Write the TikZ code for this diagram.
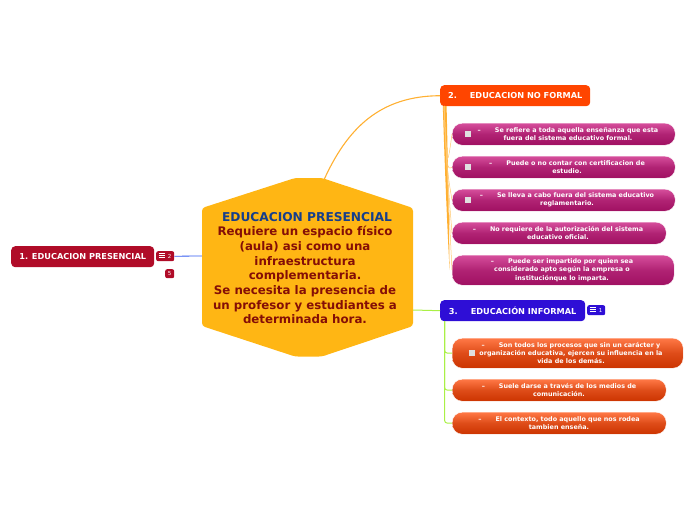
\documentclass[tikz,border=0pt]{standalone}
\usepackage{fontspec}
\setmainfont{DejaVu Sans}
\usetikzlibrary{positioning,calc}
\definecolor{hexfill}{RGB}{255,182,20}
\definecolor{hexhead}{RGB}{22,62,140}
\definecolor{hextext}{RGB}{132,14,6}
\definecolor{redtopic}{RGB}{176,12,40}
\definecolor{orangetopic}{RGB}{255,69,0}
\definecolor{bluetopic}{RGB}{46,14,214}
\definecolor{pinktop}{RGB}{214,78,156}
\definecolor{pinkbot}{RGB}{160,16,98}
\definecolor{firetop}{RGB}{255,120,70}
\definecolor{firebot}{RGB}{204,52,0}
\definecolor{limeline}{RGB}{170,240,70}
\definecolor{amberline}{RGB}{255,176,50}
\definecolor{blueline}{RGB}{50,90,240}
\tikzset{
  topic/.style={anchor=north west,rounded corners=4pt,inner sep=0pt,text=white,font=\bfseries\fontsize{8.2}{9}\selectfont},
  leaf/.style={anchor=north west,rounded corners=10pt,inner sep=0pt,draw=white,line width=0.4pt},
  pinkleaf/.style={leaf,top color=pinktop,bottom color=pinkbot,middle color=pinkbot!70!pinktop},
  fireleaf/.style={leaf,top color=firetop,bottom color=firebot,middle color=firebot!65!firetop},
  leaftext/.style={align=center,inner sep=0pt,text=white,font=\bfseries\fontsize{6.4}{8.3}\selectfont},
  chip/.style={anchor=north west,rounded corners=2pt,inner sep=0pt,text=white,font=\fontsize{5.5}{6}\selectfont},
  tick/.style={fill=black!12,minimum size=6pt,inner sep=0pt},
  branch/.style={line width=1pt,rounded corners=3pt}
}
% three rows of a list mark, drawn at the given point
\newcommand{\listmark}[1]{
\foreach \yy in {-2,0,2}{
\draw[white,line width=0.6pt] ($(#1)+(0,\yy)$)--++(0.8,0);
\draw[white,line width=0.6pt] ($(#1)+(1.8,\yy)$)--++(4.2,0);}}
\begin{document}
\begin{tikzpicture}[x=1pt,y=-1pt]
\useasboundingbox (0,0) rectangle (696,520);
% Named ends of the connectors
\coordinate (hexleft) at (202,256);
\coordinate (hexright) at (413,310);
\coordinate (hextop) at (323,182);
\coordinate (nofroot) at (444,106);
\coordinate (nofbend) at (447,170);
\coordinate (infroot) at (444.5,321);
% Topics
\node[topic,fill=redtopic,minimum width=143pt,minimum height=21pt] (edupres) at (11,246) {1. EDUCACION PRESENCIAL};
\node[topic,fill=orangetopic,minimum width=150pt,minimum height=21pt] (edunof) at (440,85) {2.\hspace{13pt}EDUCACION NO FORMAL};
\node[topic,fill=bluetopic,minimum width=145pt,minimum height=21pt] (eduinf) at (440,300) {3.\hspace{13pt}EDUCACIÓN INFORMAL};
% Chips
\node[chip,fill=redtopic,minimum width=18pt,minimum height=10pt] (chipa) at (156,251) {\hspace*{9pt}2};
\node[chip,fill=redtopic,minimum width=9pt,minimum height=9pt] (chipb) at (165,269) {5};
\node[chip,fill=bluetopic,minimum width=18pt,minimum height=10pt] (chipc) at (587,305) {\hspace*{9pt}1};
\listmark{158.5,255.5}
\listmark{589.5,309.5}
% Connectors
\draw[amberline,line width=1.1pt] (hextop) .. controls (347,128) and (380,96) .. (edunof.west);
\draw[blueline,line width=0.8pt] (chipa.east)--(hexleft);
\draw[limeline,line width=1pt] (hexright)--(eduinf.west);
\fill[amberline] (442.8,106) .. controls (444.5,160) and (446.8,220) .. (449.6,270) .. controls (449,220) and (447.8,160) .. (446.6,106) -- cycle;
% Leaves of topic 2
\node[pinkleaf,minimum width=223pt,minimum height=22pt] (leafa) at (452,123) {};
\node[pinkleaf,minimum width=223pt,minimum height=22pt] (leafb) at (452,156) {};
\node[pinkleaf,minimum width=223pt,minimum height=22pt] (leafc) at (452,189) {};
\node[pinkleaf,minimum width=214pt,minimum height=22pt] (leafd) at (452,222) {};
\node[pinkleaf,minimum width=222pt,minimum height=30pt] (leafe) at (452,255) {};
% Leaves of topic 3
\node[fireleaf,minimum width=231pt,minimum height=30pt] (leaff) at (452,338) {};
\node[fireleaf,minimum width=214pt,minimum height=22pt] (leafg) at (452,379) {};
\node[fireleaf,minimum width=214pt,minimum height=22pt] (leafh) at (452,412) {};
% Branches to the leaves
\foreach \lf in {leafa,leafb,leafc,leafd,leafe}{
\draw[amberline!70!white,line width=0.5pt] (nofroot) .. controls (nofbend) .. (\lf.west);}
\foreach \lf in {leaff,leafg,leafh}{
\draw[limeline,branch] (infroot)|-(\lf.west);}
% Centre
\fill[hexfill,rounded corners=3pt] (202,208)--(295,178)--(322,178)--(413,208)--(413,326)--(322,356.5)--(295,356.5)--(202,326)--cycle;
\node[align=center,inner sep=0pt,font=\bfseries\fontsize{11.8}{14.7}\selectfont,text=hextext] (hextxt) at (305,268) {%
\hspace*{4pt}\textcolor{hexhead}{\fontsize{12.2}{14.7}\selectfont EDUCACION PRESENCIAL}\\Requiere un espacio físico\\(aula) asi como una\\infraestructura\\complementaria.\\Se necesita la presencia de\\un profesor y estudiantes a\\determinada hora.};
% Leaf texts
\node[leaftext] (txta) at (568,134) {–\hspace{14pt}Se refiere a toda aquella enseñanza que esta\\fuera del sistema educativo formal.};
\node[leaftext] (txtb) at (567,167) {–\hspace{14pt}Puede o no contar con certificacion de\\estudio.};
\node[leaftext] (txtc) at (567,200) {–\hspace{14pt}Se lleva a cabo fuera del sistema educativo\\reglamentario.};
\node[leaftext] (txtd) at (558,233) {–\hspace{14pt}No requiere de la autorización del sistema\\educativo oficial.};
\node[leaftext] (txte) at (562,270) {–\hspace{14pt}Puede ser impartido por quien sea\\considerado apto según la empresa o\\instituciónque lo imparta.};
\node[leaftext] (txtf) at (571,353) {–\hspace{14pt}Son todos los procesos que sin un carácter y\\organización educativa, ejercen su influencia en la\\vida de los demás.};
\node[leaftext] (txtg) at (559,390) {–\hspace{14pt}Suele darse a través de los medios de\\comunicación.};
\node[leaftext] (txth) at (559,423) {–\hspace{14pt}El contexto, todo aquello que nos rodea\\tambien enseña.};
% Check marks
\node[tick] (ticka) at (467.5,133.5) {};
\node[tick] (tickb) at (467.5,166.5) {};
\node[tick] (tickc) at (467.5,199.5) {};
\node[tick] (tickf) at (471.5,353) {};
\end{tikzpicture}
\end{document}
